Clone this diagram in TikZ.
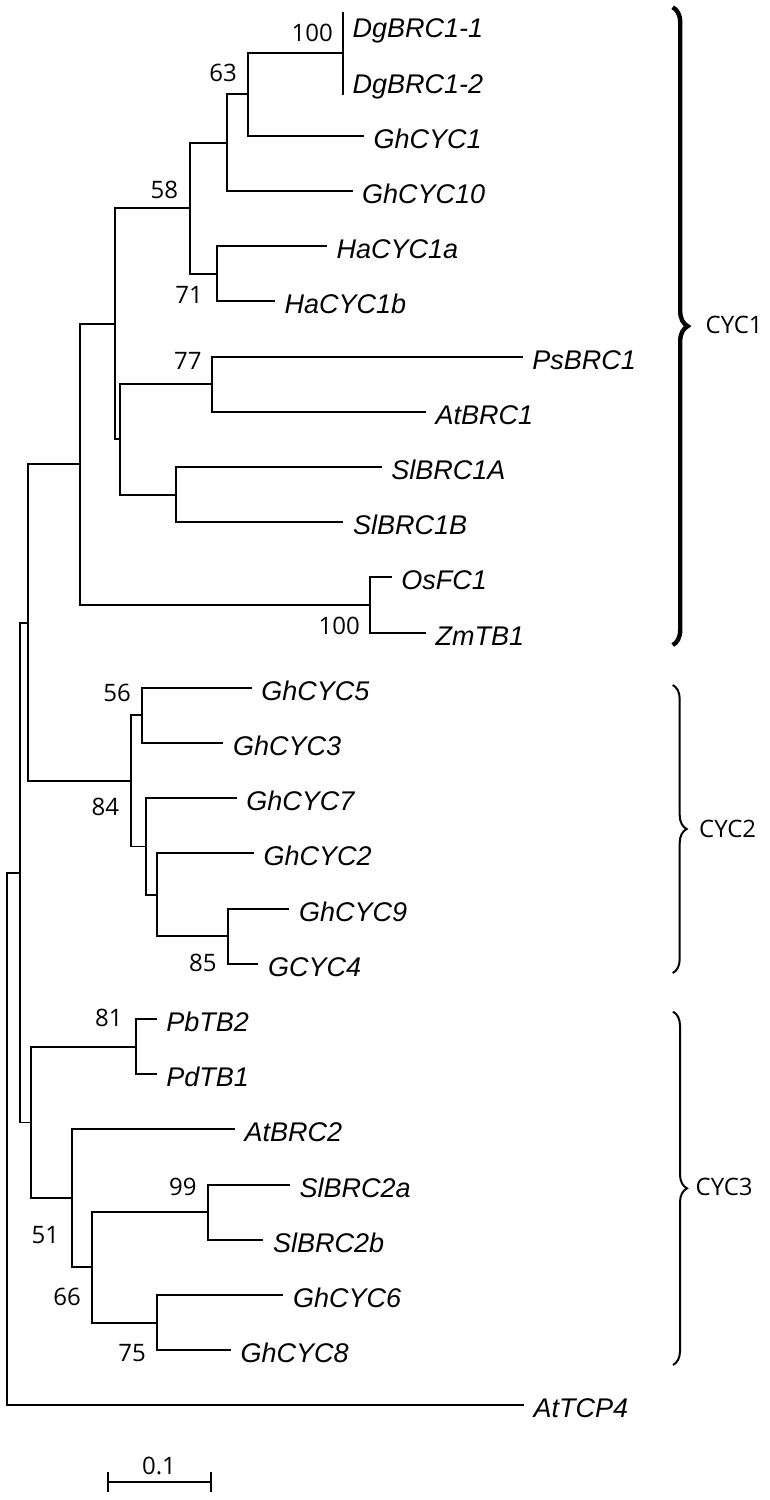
\documentclass[tikz,border=0pt]{standalone}
\usepackage{fontspec}
\setmainfont{Open Sans}
\newfontfamily\leaffont{Liberation Sans}
\usetikzlibrary{decorations.pathreplacing}
\begin{document}
\begin{tikzpicture}[x=1pt,y=-1pt,
  branch/.style={line width=1.9pt},
  leaf/.style={anchor=base west, inner sep=0pt, xshift=9.5pt, yshift=-12.5pt,
    font=\leaffont\itshape\fontsize{27}{30}\selectfont},
  boot/.style={anchor=east, inner sep=0pt, font=\fontsize{24}{26}\selectfont},
  clade/.style={anchor=west, inner sep=0pt, font=\fontsize{24}{26}\selectfont},
  cbrace/.style={decorate, decoration={brace, amplitude=#1}},
]
\fill[white] (0,0) rectangle (770,1500);
\useasboundingbox (0,0) rectangle (770,1500);

% internal nodes
\coordinate (root) at (7.3,1139);
\coordinate (n20) at (20,872.6);
\coordinate (n28) at (27.7,622.7);
\coordinate (n80) at (80,464.4);
\coordinate (n115) at (115,323.8);
\coordinate (n58) at (190,208.2);
\coordinate (n227) at (227.3,142.7);
\coordinate (n63) at (248.3,94.4);
\coordinate (ndg) at (343,53);
\coordinate (dgtop) at (343,12);
\coordinate (dgbot) at (343,95);
\coordinate (nHa) at (217.3,273.8);
\coordinate (n120) at (120,439.4);
\coordinate (n77) at (212.3,384.2);
\coordinate (nSl) at (175.7,494.6);
\coordinate (nOs) at (370,605);
\coordinate (n84) at (131,781);
\coordinate (n56) at (141.7,715.4);
\coordinate (n146) at (146,846.5);
\coordinate (n157) at (156.7,894.8);
\coordinate (n85) at (227.7,936.2);
\coordinate (n31) at (31,1122.5);
\coordinate (n81) at (136,1046.6);
\coordinate (n51) at (72.3,1198.4);
\coordinate (n66) at (91.7,1267.4);
\coordinate (n99) at (208.3,1212.2);
\coordinate (n75) at (157,1322.6);

% leaf tips
\coordinate (l1) at (343,25.4);
\coordinate (l2) at (343,80.6);
\coordinate (l3) at (364,135.8);
\coordinate (l4) at (352.5,191);
\coordinate (l5) at (327,246.2);
\coordinate (l6) at (275,301.4);
\coordinate (l7) at (522.7,356.6);
\coordinate (l8) at (426,411.8);
\coordinate (l9) at (381.7,467);
\coordinate (l10) at (343.3,522.2);
\coordinate (l11) at (391.7,577.4);
\coordinate (l12) at (426,632.6);
\coordinate (l13) at (251.7,687.8);
\coordinate (l14) at (223.3,743);
\coordinate (l15) at (236.7,798.2);
\coordinate (l16) at (254,853.4);
\coordinate (l17) at (289.3,908.6);
\coordinate (l18) at (258.3,963.8);
\coordinate (l19) at (156.7,1019);
\coordinate (l20) at (156.7,1074.2);
\coordinate (l21) at (235,1129.4);
\coordinate (l22) at (290,1184.6);
\coordinate (l23) at (263.3,1239.8);
\coordinate (l24) at (283.3,1295);
\coordinate (l25) at (231,1350.2);
\coordinate (l26) at (524,1405.4);

% leaf labels
\node[leaf] (t1) at (l1) {DgBRC1-1};
\node[leaf] (t2) at (l2) {DgBRC1-2};
\node[leaf] (t3) at (l3) {GhCYC1};
\node[leaf] (t4) at (l4) {GhCYC10};
\node[leaf] (t5) at (l5) {HaCYC1a};
\node[leaf] (t6) at (l6) {HaCYC1b};
\node[leaf] (t7) at (l7) {PsBRC1};
\node[leaf] (t8) at (l8) {AtBRC1};
\node[leaf] (t9) at (l9) {SlBRC1A};
\node[leaf] (t10) at (l10) {SlBRC1B};
\node[leaf] (t11) at (l11) {OsFC1};
\node[leaf] (t12) at (l12) {ZmTB1};
\node[leaf] (t13) at (l13) {GhCYC5};
\node[leaf] (t14) at (l14) {GhCYC3};
\node[leaf] (t15) at (l15) {GhCYC7};
\node[leaf] (t16) at (l16) {GhCYC2};
\node[leaf] (t17) at (l17) {GhCYC9};
\node[leaf] (t18) at (l18) {GCYC4};
\node[leaf] (t19) at (l19) {PbTB2};
\node[leaf] (t20) at (l20) {PdTB1};
\node[leaf] (t21) at (l21) {AtBRC2};
\node[leaf] (t22) at (l22) {SlBRC2a};
\node[leaf] (t23) at (l23) {SlBRC2b};
\node[leaf] (t24) at (l24) {GhCYC6};
\node[leaf] (t25) at (l25) {GhCYC8};
\node[leaf] (t26) at (l26) {AtTCP4};

% branches
\draw[branch] (root) |- (n20);
\draw[branch] (root) |- (l26);
\draw[branch] (n20) |- (n28);
\draw[branch] (n20) |- (n31);
\draw[branch] (n28) |- (n80);
\draw[branch] (n28) |- (n84);
\draw[branch] (n80) |- (n115);
\draw[branch] (n80) |- (nOs);
\draw[branch] (n115) |- (n58);
\draw[branch] (n115) |- (n120);
\draw[branch] (n58) |- (n227);
\draw[branch] (n58) |- (nHa);
\draw[branch] (n227) |- (n63);
\draw[branch] (n227) |- (l4);
\draw[branch] (n63) |- (ndg);
\draw[branch] (n63) |- (l3);
\draw[branch] (dgtop) -- (dgbot);
\draw[branch] (nHa) |- (l5);
\draw[branch] (nHa) |- (l6);
\draw[branch] (n120) |- (n77);
\draw[branch] (n120) |- (nSl);
\draw[branch] (n77) |- (l7);
\draw[branch] (n77) |- (l8);
\draw[branch] (nSl) |- (l9);
\draw[branch] (nSl) |- (l10);
\draw[branch] (nOs) |- (l11);
\draw[branch] (nOs) |- (l12);
\draw[branch] (n84) |- (n56);
\draw[branch] (n84) |- (n146);
\draw[branch] (n56) |- (l13);
\draw[branch] (n56) |- (l14);
\draw[branch] (n146) |- (l15);
\draw[branch] (n146) |- (n157);
\draw[branch] (n157) |- (l16);
\draw[branch] (n157) |- (n85);
\draw[branch] (n85) |- (l17);
\draw[branch] (n85) |- (l18);
\draw[branch] (n31) |- (n81);
\draw[branch] (n31) |- (n51);
\draw[branch] (n81) |- (l19);
\draw[branch] (n81) |- (l20);
\draw[branch] (n51) |- (l21);
\draw[branch] (n51) |- (n66);
\draw[branch] (n66) |- (n99);
\draw[branch] (n66) |- (n75);
\draw[branch] (n99) |- (l22);
\draw[branch] (n99) |- (l23);
\draw[branch] (n75) |- (l24);
\draw[branch] (n75) |- (l25);

% bootstrap values
\node[boot] (b1) at (333,33.3) {100};
\node[boot] (b2) at (237,73) {63};
\node[boot] (b3) at (178.3,190) {58};
\node[boot] (b4) at (203,295) {71};
\node[boot] (b5) at (201.7,361.3) {77};
\node[boot] (b6) at (360,625.5) {100};
\node[boot] (b7) at (131,693.3) {56};
\node[boot] (b8) at (119.3,807) {84};
\node[boot] (b9) at (216.7,963) {85};
\node[boot] (b10) at (122.7,1018) {81};
\node[boot] (b11) at (196.7,1186.7) {99};
\node[boot] (b12) at (59.3,1235) {51};
\node[boot] (b13) at (81,1296.5) {66};
\node[boot] (b14) at (146,1352.7) {75};

% clade braces
\coordinate (c1t) at (672.7,7.3);
\coordinate (c1b) at (672.7,645);
\coordinate (c2t) at (672.7,685);
\coordinate (c2b) at (672.7,973);
\coordinate (c3t) at (673,1011.7);
\coordinate (c3b) at (673,1365);
\draw[cbrace=15, line width=4.4pt] (c1t) -- (c1b);
\draw[cbrace=14, line width=2pt] (c2t) -- (c2b);
\draw[cbrace=14, line width=2pt] (c3t) -- (c3b);
\node[clade] (k1) at (705.5,325) {CYC1};
\node[clade] (k2) at (699,829) {CYC2};
\node[clade] (k3) at (695.5,1186.7) {CYC3};

% scale bar
\coordinate (s1) at (108.3,1481.7);
\coordinate (s2) at (211,1481.7);
\draw[branch] (s1) -- (s2);
\draw[branch] ([yshift=9.5pt]s1) -- ([yshift=-10pt]s1);
\draw[branch] ([yshift=9.5pt]s2) -- ([yshift=-10pt]s2);
\node[boot, anchor=center] (sbl) at (159,1466) {0.1};
\end{tikzpicture}
\end{document}
